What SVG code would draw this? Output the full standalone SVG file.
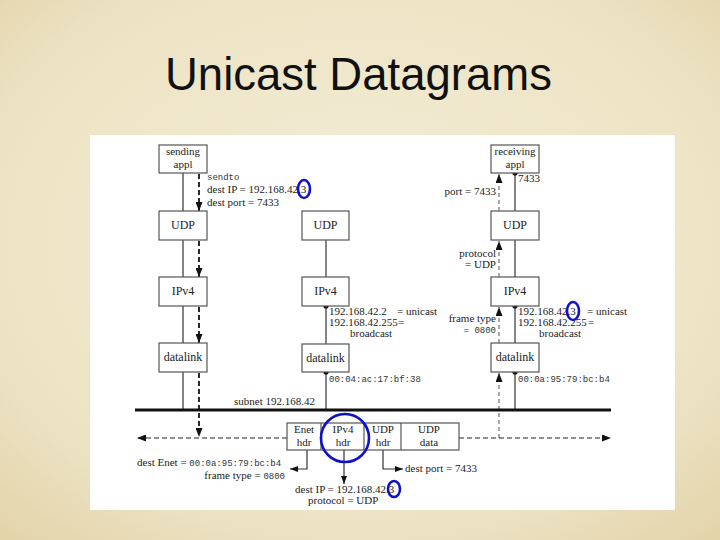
<svg xmlns="http://www.w3.org/2000/svg" width="720" height="540" viewBox="0 0 720 540">
<defs>
<radialGradient id="bg" cx="0.5" cy="0.45" r="0.75">
<stop offset="0" stop-color="#f4eed8"/>
<stop offset="0.7" stop-color="#ede3c4"/>
<stop offset="1" stop-color="#e2d3a8"/>
</radialGradient>
<marker id="ah" markerWidth="9" markerHeight="7" refX="9" refY="3.5" orient="auto" markerUnits="userSpaceOnUse">
<path d="M0,0 L9,3.5 L0,7 Z" fill="#111"/>
</marker>
<marker id="ahs" markerWidth="8" markerHeight="6" refX="8" refY="3" orient="auto" markerUnits="userSpaceOnUse">
<path d="M0,0 L8,3 L0,6 Z" fill="#111"/>
</marker>
</defs>
<style>
.box{fill:#fff;stroke:#555;stroke-width:1.2}
.bl{font-family:"Liberation Serif",serif;font-size:12px;text-anchor:middle;fill:#222}
.b2{font-family:"Liberation Serif",serif;font-size:11px;text-anchor:middle;fill:#222}
.t{font-family:"Liberation Serif",serif;font-size:11px;fill:#222}
.m{font-family:"Liberation Mono",monospace;font-size:9px;fill:#333}
.sol{stroke:#333;stroke-width:1.2;fill:none}
.dl{stroke:#111;stroke-width:1.8;stroke-dasharray:5 3;fill:none}
.dr{stroke:#555;stroke-width:1;stroke-dasharray:4 3;fill:none}
.dh{stroke:#222;stroke-width:1.2;stroke-dasharray:5 3;fill:none}
.dot{fill:#111}
.circ{fill:none;stroke:#1010c8;stroke-width:2.6}
</style>
<rect x="0" y="0" width="720" height="540" fill="url(#bg)"/>
<text x="165" y="90" font-family="Liberation Sans, Arial, sans-serif" font-size="45.5" fill="#111">Unicast Datagrams</text>
<rect x="90" y="135" width="585" height="375" fill="#fff"/>

<g id="connectors">
<line class="sol" x1="183" y1="173" x2="183" y2="211"/>
<line class="sol" x1="183" y1="240" x2="183" y2="277"/>
<line class="sol" x1="183" y1="306" x2="183" y2="343"/>
<line class="sol" x1="183" y1="372" x2="183" y2="410"/>
<line class="dl" x1="199" y1="174" x2="199" y2="211" marker-end="url(#ah)"/>
<line class="dl" x1="199" y1="241" x2="199" y2="277" marker-end="url(#ah)"/>
<line class="dl" x1="199" y1="307" x2="199" y2="343" marker-end="url(#ah)"/>
<line class="dl" x1="199" y1="373" x2="199" y2="437" marker-end="url(#ah)"/>
<line class="sol" x1="326" y1="240" x2="326" y2="277"/>
<line class="sol" x1="326" y1="306" x2="326" y2="344"/>
<line class="sol" x1="326" y1="372" x2="326" y2="410"/>
<circle class="dot" cx="326" cy="306" r="2.6"/>
<circle class="dot" cx="326" cy="372" r="2.6"/>
<line class="sol" x1="515" y1="173" x2="515" y2="211"/>
<line class="sol" x1="515" y1="240" x2="515" y2="277"/>
<line class="sol" x1="515" y1="306" x2="515" y2="343"/>
<line class="sol" x1="515" y1="372" x2="515" y2="410"/>
<circle class="dot" cx="515" cy="173" r="2.6"/>
<circle class="dot" cx="515" cy="306" r="2.6"/>
<circle class="dot" cx="515" cy="372" r="2.6"/>
<line class="dr" x1="499" y1="211" x2="499" y2="174" marker-end="url(#ah)"/>
<line class="dr" x1="499" y1="277" x2="499" y2="241" marker-end="url(#ah)"/>
<line class="dr" x1="499" y1="343" x2="499" y2="307" marker-end="url(#ah)"/>
<line class="dr" x1="499" y1="438" x2="499" y2="373" marker-end="url(#ah)"/>
<line x1="135" y1="410" x2="611" y2="410" stroke="#111" stroke-width="3"/>
<line class="dh" x1="287" y1="438" x2="137" y2="438" marker-end="url(#ah)"/>
<line class="dh" x1="459" y1="438" x2="611" y2="438" marker-end="url(#ah)"/>
<polyline class="sol" points="307,450 307,469 290,469" marker-end="url(#ahs)"/>
<line class="sol" x1="344" y1="450" x2="344" y2="484" marker-end="url(#ahs)"/>
<polyline class="sol" points="383,450 383,469 403,469" marker-end="url(#ahs)"/>
</g>

<g id="sending-appl"><rect class="box" x="159" y="145" width="48" height="28"/><text class="b2" x="183" y="155">sending</text><text class="b2" x="183" y="168">appl</text></g>
<g id="udp-left"><rect class="box" x="159" y="211" width="48" height="29"/><text class="bl" x="183" y="229">UDP</text></g>
<g id="ipv4-left"><rect class="box" x="159" y="277" width="48" height="29"/><text class="bl" x="183" y="295">IPv4</text></g>
<g id="datalink-left"><rect class="box" x="159" y="343" width="48" height="29"/><text class="bl" x="183" y="361">datalink</text></g>

<g id="udp-mid"><rect class="box" x="302" y="211" width="47" height="29"/><text class="bl" x="325.5" y="229">UDP</text></g>
<g id="ipv4-mid"><rect class="box" x="302" y="277" width="47" height="29"/><text class="bl" x="325.5" y="295">IPv4</text></g>
<g id="datalink-mid"><rect class="box" x="302" y="344" width="47" height="28"/><text class="bl" x="325.5" y="362">datalink</text></g>

<g id="receiving-appl"><rect class="box" x="491" y="145" width="48" height="28"/><text class="b2" x="515" y="155">receiving</text><text class="b2" x="515" y="168">appl</text></g>
<g id="udp-right"><rect class="box" x="491" y="211" width="48" height="29"/><text class="bl" x="515" y="229">UDP</text></g>
<g id="ipv4-right"><rect class="box" x="491" y="277" width="48" height="29"/><text class="bl" x="515" y="295">IPv4</text></g>
<g id="datalink-right"><rect class="box" x="491" y="343" width="48" height="29"/><text class="bl" x="515" y="361">datalink</text></g>

<g id="packet">
<rect class="box" x="287" y="423" width="172" height="27"/>
<line stroke="#555" stroke-width="1.2" x1="321" y1="423" x2="321" y2="450"/>
<line stroke="#555" stroke-width="1.2" x1="364" y1="423" x2="364" y2="450"/>
<line stroke="#555" stroke-width="1.2" x1="401" y1="423" x2="401" y2="450"/>
<text class="b2" x="304" y="433">Enet</text><text class="b2" x="304" y="446">hdr</text>
<text class="b2" x="343" y="433">IPv4</text><text class="b2" x="343" y="446">hdr</text>
<text class="b2" x="383" y="433">UDP</text><text class="b2" x="383" y="446">hdr</text>
<text class="b2" x="429" y="433">UDP</text><text class="b2" x="429" y="446">data</text>
</g>

<g id="labels">
<text class="m" x="207" y="180" font-size="10">sendto</text>
<text class="t" x="207" y="193">dest IP = 192.168.42.3</text>
<text class="t" x="207" y="206">dest port = 7433</text>

<text class="t" x="496" y="195" text-anchor="end">port = 7433</text>
<text class="t" x="518" y="182">7433</text>
<text class="t" x="496" y="257" text-anchor="end">protocol</text>
<text class="t" x="496" y="268" text-anchor="end">= UDP</text>
<text class="t" x="496" y="322" text-anchor="end">frame type</text>
<text class="m" x="496" y="333" text-anchor="end" font-size="8">= 0800</text>

<text class="t" x="329" y="315">192.168.42.2</text>
<text class="t" x="397" y="315">= unicast</text>
<text class="t" x="329" y="326">192.168.42.255</text>
<text class="t" x="398" y="326">=</text>
<text class="t" x="350" y="337">broadcast</text>
<text class="m" x="329" y="382">00:04:ac:17:bf:38</text>

<text class="t" x="518" y="315">192.168.42.3</text>
<text class="t" x="587" y="315">= unicast</text>
<text class="t" x="518" y="326">192.168.42.255</text>
<text class="t" x="588" y="326">=</text>
<text class="t" x="539" y="337">broadcast</text>
<text class="m" x="518" y="382">00:0a:95:79:bc:b4</text>

<text class="t" x="234" y="405">subnet 192.168.42</text>

<text class="t" x="137" y="466">dest Enet = <tspan class="m">00:0a:95:79:bc:b4</tspan></text>
<text class="t" x="285" y="479" text-anchor="end">frame type = <tspan class="m">0800</tspan></text>
<text class="t" x="295" y="493">dest IP = 192.168.42.3</text>
<text class="t" x="308" y="504">protocol = UDP</text>
<text class="t" x="405" y="472">dest port = 7433</text>
</g>

<g id="annotations">
<ellipse class="circ" cx="304" cy="189" rx="6" ry="9"/>
<ellipse class="circ" cx="573" cy="311" rx="6" ry="9"/>
<ellipse class="circ" cx="394" cy="489" rx="6" ry="8"/>
<ellipse class="circ" cx="345" cy="438" rx="24" ry="24" stroke-width="3"/>
</g>
</svg>
